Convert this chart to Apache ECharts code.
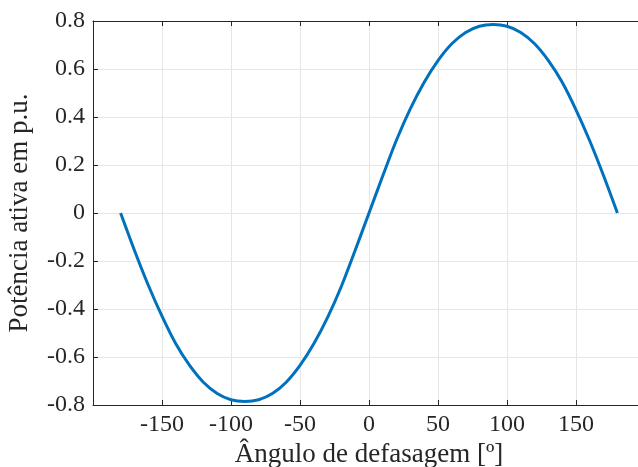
<!DOCTYPE html>
<html>
<head>
<meta charset="utf-8">
<script src="https://cdn.jsdelivr.net/npm/echarts@6/dist/echarts.min.js"></script>
<style>
  html, body { margin: 0; padding: 0; background: #ffffff; }
  #chart { width: 638px; height: 467px; }
</style>
</head>
<body>
<div id="chart"></div>
<script>
// Load angle (degrees) and active power (p.u.)
const angles = [-180, -170, -160, -150, -140, -130, -120, -110, -100, -90,
                -80, -70, -60, -50, -40, -30, -20, -10, 0,
                10, 20, 30, 40, 50, 60, 70, 80, 90,
                100, 110, 120, 130, 140, 150, 160, 170, 180];
const power = [0, -0.155, -0.300, -0.430, -0.545, -0.635, -0.705, -0.752, -0.778, -0.785,
               -0.778, -0.752, -0.705, -0.635, -0.545, -0.435, -0.305, -0.155, 0,
               0.155, 0.305, 0.435, 0.545, 0.635, 0.705, 0.752, 0.778, 0.785,
               0.778, 0.752, 0.705, 0.635, 0.545, 0.430, 0.300, 0.155, 0];

const xLabel = 'Ângulo de defasagem [º]';
const yLabel = 'Potência ativa em p.u.';

const FONT = 'Liberation Serif';
const INK = '#262626';
const GRID = '#e6e6e6';

const chart = echarts.init(document.getElementById('chart'), null, { renderer: 'canvas' });

chart.setOption({
  animation: false,
  backgroundColor: '#ffffff',
  grid: { left: 93, top: 21, width: 552, height: 384, containLabel: false, outerBoundsMode: 'none' },
  xAxis: [
    {
      type: 'value', position: 'bottom', min: -200, max: 200, interval: 50,
      name: xLabel, nameLocation: 'middle', nameGap: 32,
      nameTextStyle: { fontFamily: FONT, fontSize: 27, color: INK },
      axisLine: { show: true, onZero: false, lineStyle: { color: INK, width: 1 } },
      axisTick: { show: true, inside: true, length: 5, lineStyle: { color: INK } },
      axisLabel: { fontFamily: FONT, fontSize: 24, color: INK, margin: 8,
                   showMinLabel: false, showMaxLabel: false },
      splitLine: { show: true, lineStyle: { color: GRID, width: 1 } }
    },
    {
      type: 'value', position: 'top', min: -200, max: 200, interval: 50,
      axisLine: { show: true, onZero: false, lineStyle: { color: INK, width: 1 } },
      axisTick: { show: true, inside: true, length: 5, lineStyle: { color: INK } },
      axisLabel: { show: false },
      splitLine: { show: false }
    }
  ],
  yAxis: [
    {
      type: 'value', position: 'left', min: -0.8, max: 0.8, interval: 0.2,
      name: yLabel, nameLocation: 'middle', nameGap: 60,
      nameTextStyle: { fontFamily: FONT, fontSize: 27, color: INK },
      axisLine: { show: true, onZero: false, lineStyle: { color: INK, width: 1 } },
      axisTick: { show: true, inside: true, length: 5, lineStyle: { color: INK } },
      axisLabel: { fontFamily: FONT, fontSize: 24, color: INK, margin: 8 },
      splitLine: { show: true, lineStyle: { color: GRID, width: 1 } }
    }
  ],
  series: [
    {
      type: 'line',
      xAxisIndex: 0,
      yAxisIndex: 0,
      data: angles.map((a, i) => [a, power[i]]),
      smooth: 0.3,
      showSymbol: false,
      lineStyle: { color: '#0072BD', width: 3 },
      itemStyle: { color: '#0072BD' }
    }
  ]
});
</script>
</body>
</html>
